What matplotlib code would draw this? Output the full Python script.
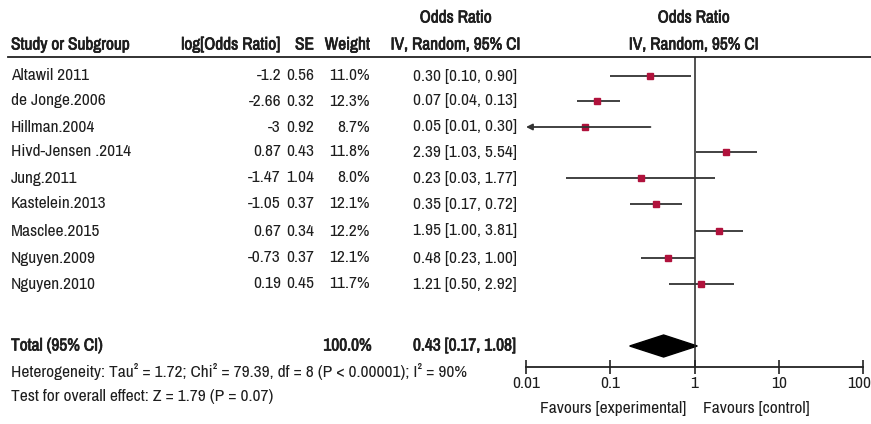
import matplotlib
matplotlib.use("Agg")
import matplotlib.pyplot as plt
import matplotlib.patheffects as pe
from matplotlib.patches import Polygon
from matplotlib.transforms import ScaledTranslation

# ---- data ----
studies = ["Altawil 2011", "de Jonge.2006", "Hillman.2004", "Hivd-Jensen .2014", "Jung.2011",
           "Kastelein.2013", "Masclee.2015", "Nguyen.2009", "Nguyen.2010"]
log_or = ["-1.2", "-2.66", "-3", "0.87", "-1.47", "-1.05", "0.67", "-0.73", "0.19"]
se = ["0.56", "0.32", "0.92", "0.43", "1.04", "0.37", "0.34", "0.37", "0.45"]
weight = [11.0, 12.3, 8.7, 11.8, 8.0, 12.1, 12.2, 12.1, 11.7]
or_val = [0.30, 0.07, 0.05, 2.39, 0.23, 0.35, 1.95, 0.48, 1.21]
ci_low = [0.10, 0.04, 0.01, 1.03, 0.03, 0.17, 1.00, 0.23, 0.50]
ci_high = [0.90, 0.13, 0.30, 5.54, 1.77, 0.72, 3.81, 1.00, 2.92]
total_weight = 100.0
total_or, total_low, total_high = 0.43, 0.17, 1.08
heterogeneity = "Heterogeneity: Tau² = 1.72; Chi² = 79.39, df = 8 (P < 0.00001); I² = 90%"
overall = "Test for overall effect: Z = 1.79 (P = 0.07)"
xticks = [0.01, 0.1, 1, 10, 100]
xtick_labels = ["0.01", "0.1", "1", "10", "100"]

# ---- layout ----
W, H = 871, 424
row_y = [76, 101, 127, 152, 178, 204, 231, 258, 284]
total_y = 346
FONT = ["Archivo Narrow", "Liberation Sans", "DejaVu Sans"]
FS = 12.5
TXT = "#1e1e1e"
BOLD = [pe.withStroke(linewidth=0.5, foreground=TXT)]
plt.rcParams['font.family'] = FONT

fig = plt.figure(figsize=(W / 100, H / 100), dpi=100)
fig.patch.set_facecolor("white")

tab = fig.add_axes([0, 0, 1, 1])
tab.set_xlim(0, W)
tab.set_ylim(H, 0)
tab.axis("off")

def t(x, y, s, ha="left", bold=False, fs=FS):
    tab.text(x, y, s, ha=ha, va="center", fontsize=fs, color=TXT,
             path_effects=BOLD if bold else None)

# column right edges
C_LOG, C_SE, C_W, C_CI = 281, 314, 370, 517

# headers
t(456, 18, "Odds Ratio", ha="center", bold=True)
t(694, 18, "Odds Ratio", ha="center", bold=True)
t(11, 45, "Study or Subgroup", bold=True)
t(C_LOG, 45, "log[Odds Ratio]", ha="right", bold=True)
t(C_SE, 45, "SE", ha="right", bold=True)
t(C_W, 45, "Weight", ha="right", bold=True)
t(C_CI + 4, 45, "IV, Random, 95% CI", ha="right", bold=True)
t(694, 45, "IV, Random, 95% CI", ha="center", bold=True)
tab.plot([8, W], [57, 57], color="#222222", lw=1.3)

for i, name in enumerate(studies):
    y = row_y[i]
    t(11, y, name)
    t(C_LOG, y, log_or[i], ha="right")
    t(C_SE, y, se[i], ha="right")
    t(C_W, y, f"{weight[i]:.1f}%", ha="right")
    t(C_CI, y, f"{or_val[i]:.2f} [{ci_low[i]:.2f}, {ci_high[i]:.2f}]", ha="right")

t(11, total_y, "Total (95% CI)", bold=True)
t(C_W + 2, total_y, f"{total_weight:.1f}%", ha="right", bold=True)
t(C_CI, total_y, f"{total_or:.2f} [{total_low:.2f}, {total_high:.2f}]", ha="right", bold=True)
t(11, 372, heterogeneity)
t(11, 397, overall)
t(686, 408, "Favours [experimental]", ha="right")
t(703, 408, "Favours [control]", ha="left")

# forest axes
x0, x1, ytop, ybot = 526, 863, 57, 367
ax = fig.add_axes([x0 / W, 1 - ybot / H, (x1 - x0) / W, (ybot - ytop) / H])
ax.set_xscale("log")
ax.set_xlim(xticks[0], xticks[-1])
ax.set_ylim(ybot, ytop)
ax.patch.set_alpha(0)
for s in ["top", "left", "right"]:
    ax.spines[s].set_visible(False)
ax.spines["bottom"].set_color("#222222")
ax.spines["bottom"].set_linewidth(1.3)
ax.set_yticks([])
ax.set_xticks(xticks)
ax.set_xticklabels(xtick_labels)
ax.minorticks_off()
ax.tick_params(axis="x", direction="inout", length=10, width=1.2, color="#222222",
               labelsize=FS, labelcolor=TXT, pad=1.5)
last = ax.get_xticklabels()[-1]
last.set_transform(last.get_transform() + ScaledTranslation(-4 / 100, 0, fig.dpi_scale_trans))
ax.axvline(1, color="#222222", lw=1.1)

for i in range(len(studies)):
    y = row_y[i]
    if ci_low[i] <= xticks[0]:
        ax.annotate("", xy=(xticks[0], y), xytext=(ci_high[i], y),
                    arrowprops=dict(arrowstyle="-|>", color="#333333", lw=1.3,
                                    mutation_scale=9, shrinkA=0, shrinkB=0))
    else:
        ax.plot([ci_low[i], ci_high[i]], [y, y], color="#333333", lw=1.3,
                solid_capstyle="butt")
    ax.plot(or_val[i], y, marker="s", ms=5, color="#b0123c", mec="#b0123c")

dia = Polygon([(total_low, total_y), (total_or, total_y - 11),
               (total_high, total_y), (total_or, total_y + 11)],
              closed=True, facecolor="black", edgecolor="black")
ax.add_patch(dia)

fig.savefig("out.png", dpi=100, facecolor="white")
